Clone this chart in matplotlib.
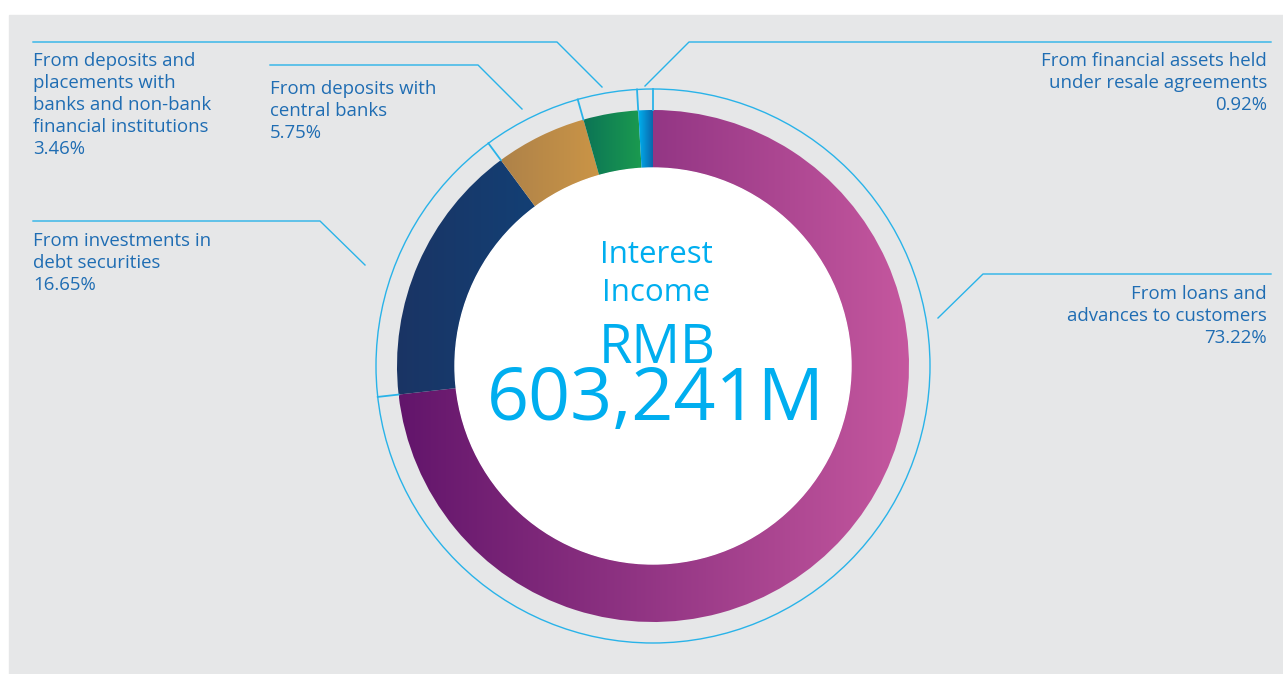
import numpy as np
import matplotlib.pyplot as plt
import matplotlib.patches as mpatches
from matplotlib.colors import LinearSegmentedColormap

# data
labels = ['From loans and\nadvances to customers',
          'From investments in\ndebt securities',
          'From deposits with\ncentral banks',
          'From deposits and\nplacements with\nbanks and non-bank\nfinancial institutions',
          'From financial assets held\nunder resale agreements']
shares = [73.22, 16.65, 5.75, 3.46, 0.92]
# left -> right gradient colours for each slice
grad_left = ['#62156b', '#1a3464', '#ae8249', '#0b7456', '#00b2f0']
grad_right = ['#c6589f', '#0d4982', '#da9f45', '#1ea24e', '#0a66ab']
title = 'Interest\nIncome'
currency = 'RMB'
total = '603,241M'

W, H = 1283, 674
def Y(y):
    return H - y

plt.rcParams['font.family'] = ['Open Sans', 'DejaVu Sans']
fig = plt.figure(figsize=(W / 100, H / 100), dpi=100, facecolor='white')
ax = fig.add_axes([0, 0, 1, 1])

# grey panel
ax.add_patch(mpatches.Rectangle((9, 0), W - 9, H - 15, color='#e6e7e8', zorder=0))

cx, cy = 653, Y(366)
r_out, r_in, r_ring = 256, 198, 277
line_c = '#29b3e8'
text_c = '#1f6db3'
big_c = '#00aeef'

wedges, _ = ax.pie(shares, startangle=90, counterclock=False, radius=r_out,
                   center=(cx, cy), wedgeprops=dict(width=r_out - r_in, lw=0))

grad = np.linspace(0, 1, 256).reshape(1, -1)
for i, w in enumerate(wedges):
    w.set_facecolor('none')
    v = w.get_path().vertices
    cmap = LinearSegmentedColormap.from_list('g%d' % i, [grad_left[i], grad_right[i]])
    im = ax.imshow(grad, cmap=cmap, aspect='auto', interpolation='bilinear',
                   extent=[v[:, 0].min(), v[:, 0].max(), v[:, 1].min(), v[:, 1].max()],
                   zorder=2)
    im.set_clip_path(w)

ax.add_patch(mpatches.Circle((cx, cy), r_in, color='white', zorder=3))
ax.add_patch(mpatches.Circle((cx, cy), r_ring, fill=False, ec=line_c, lw=1.0, zorder=3))

# separators between slices on the outer ring
for w in wedges:
    a = np.deg2rad(w.theta1)
    ax.plot([cx + r_out * np.cos(a), cx + r_ring * np.cos(a)],
            [cy + r_out * np.sin(a), cy + r_ring * np.sin(a)],
            color=line_c, lw=1.3, zorder=4)

# centre text
ax.text(656, Y(301), title, ha='center', va='baseline', fontsize=22.5,
        color=big_c, linespacing=1.36, zorder=5)
ax.text(657, Y(363), currency, ha='center', va='baseline', fontsize=39,
        color=big_c, zorder=5)
ax.text(656, Y(420), total, ha='center', va='baseline', fontsize=53,
        color=big_c, zorder=5)

# labels with leader lines: (text x, first baseline, ha, leader points)
lab = [
    (1267, 300, 'right', [(1271, 274), (983, 274), (938, 318)]),
    (33, 247, 'left', [(33, 221), (320, 221), (365, 265)]),
    (270, 95, 'left', [(270, 65), (478, 65), (522, 109)]),
    (33, 68, 'left', [(33, 42), (557, 42), (602, 87)]),
    (1267, 67, 'right', [(1271, 42), (689, 42), (645, 86)]),
]
step = 21.6
for i, (tx, ty, ha, pts) in enumerate(lab):
    nlines = labels[i].count('\n') + 1
    txt = labels[i] + '\n' + '%.2f%%' % shares[i]
    ax.text(tx, Y(ty + nlines * step), txt, ha=ha, va='baseline', fontsize=13.4,
            color=text_c, linespacing=1.3, multialignment=ha, zorder=5)
    ax.plot([p[0] for p in pts], [Y(p[1]) for p in pts], color=line_c, lw=1.0, zorder=4)

ax.set_xlim(0, W)
ax.set_ylim(0, H)
ax.set_aspect('auto')
ax.axis('off')
fig.savefig('out.png', dpi=100, facecolor='white')
